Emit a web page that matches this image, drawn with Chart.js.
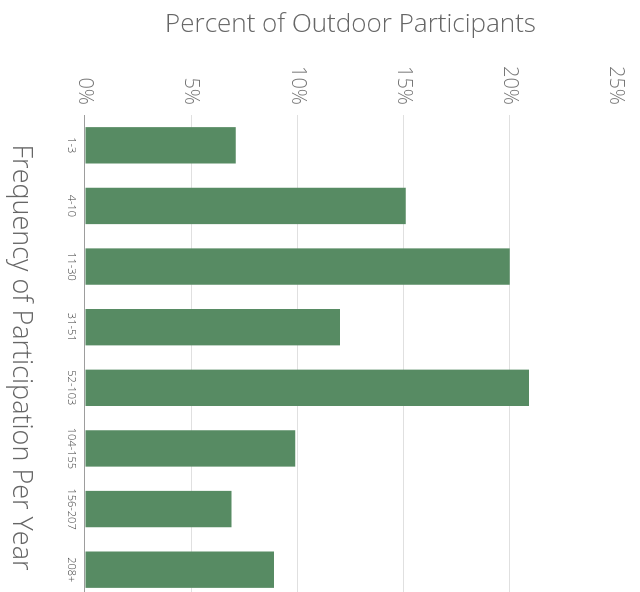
<!DOCTYPE html>
<html>
<head>
<meta charset="utf-8">
<script src="https://cdn.jsdelivr.net/npm/chart.js@4"></script>
<style>
  html, body { margin: 0; padding: 0; background: #fff; overflow: hidden; }
  #wrap { position: relative; width: 640px; height: 592px; overflow: hidden; background: #fff; }
  /* chart is drawn upright (vertical bars) and turned a quarter clockwise, like the scan */
  #chart { position: absolute; left: 0; top: 0; transform-origin: 0 0; transform: translateX(640px) rotate(90deg); }
</style>
</head>
<body>
<div id="wrap"><canvas id="chart" width="600" height="640"></canvas></div>
<script>
// ── DATA ──
const categories = ['1-3', '4-10', '11-30', '31-51', '52-103', '104-155', '156-207', '208+']
const percentValues = [7.1, 15.1, 20.0, 12.0, 20.9, 9.9, 6.9, 8.9]
const percentTicks = [0, 5, 10, 15, 20, 25]

const valueTitle = 'Percent of Outdoor Participants'
const categoryTitle = 'Frequency of Participation Per Year'

// ── CHART ──
const FONT = '"Open Sans", Lato, sans-serif'

new Chart(document.getElementById('chart'), {
  type: 'bar',
  data: {
    labels: categories,
    datasets: [{
      data: percentValues,
      backgroundColor: '#578b63',
      borderWidth: 0,
      categoryPercentage: 1,
      barPercentage: 0.6
    }]
  },
  options: {
    responsive: false,
    animation: false,
    devicePixelRatio: 1,
    layout: { padding: { top: 24, right: 0, bottom: 0, left: 0 } },
    plugins: { legend: { display: false }, tooltip: { enabled: false } },
    scales: {
      x: {
        afterFit: s => { s.height = 85 },
        grid: { display: false, drawTicks: false },
        border: { display: true, color: 'rgba(0,0,0,0.3)', width: 1 },
        ticks: { color: '#444', font: { family: FONT, size: 11, weight: '300' }, padding: 7, maxRotation: 0, autoSkip: false },
        title: {
          display: true, text: categoryTitle, color: '#666',
          font: { family: FONT, size: 27, weight: '300' }, padding: { top: 0, bottom: 4 }
        }
      },
      y: {
        min: percentTicks[0],
        max: percentTicks[percentTicks.length - 1],
        afterFit: s => { s.width = 115 },
        afterBuildTicks: s => { s.ticks = percentTicks.map(v => ({ value: v })) },
        border: { display: false },
        grid: {
          drawTicks: false,
          color: c => c.tick && c.tick.value === 25 ? 'rgba(0,0,0,0)' : 'rgba(0,0,0,0.12)'
        },
        ticks: {
          color: '#777', font: { family: FONT, size: 20, weight: '300' }, padding: 10,
          callback: v => v + '%'
        },
        title: {
          display: true, text: valueTitle, color: '#666',
          font: { family: FONT, size: 26, weight: '300' }, padding: { top: 9, bottom: 0 }
        }
      }
    }
  }
})
</script>
</body>
</html>
